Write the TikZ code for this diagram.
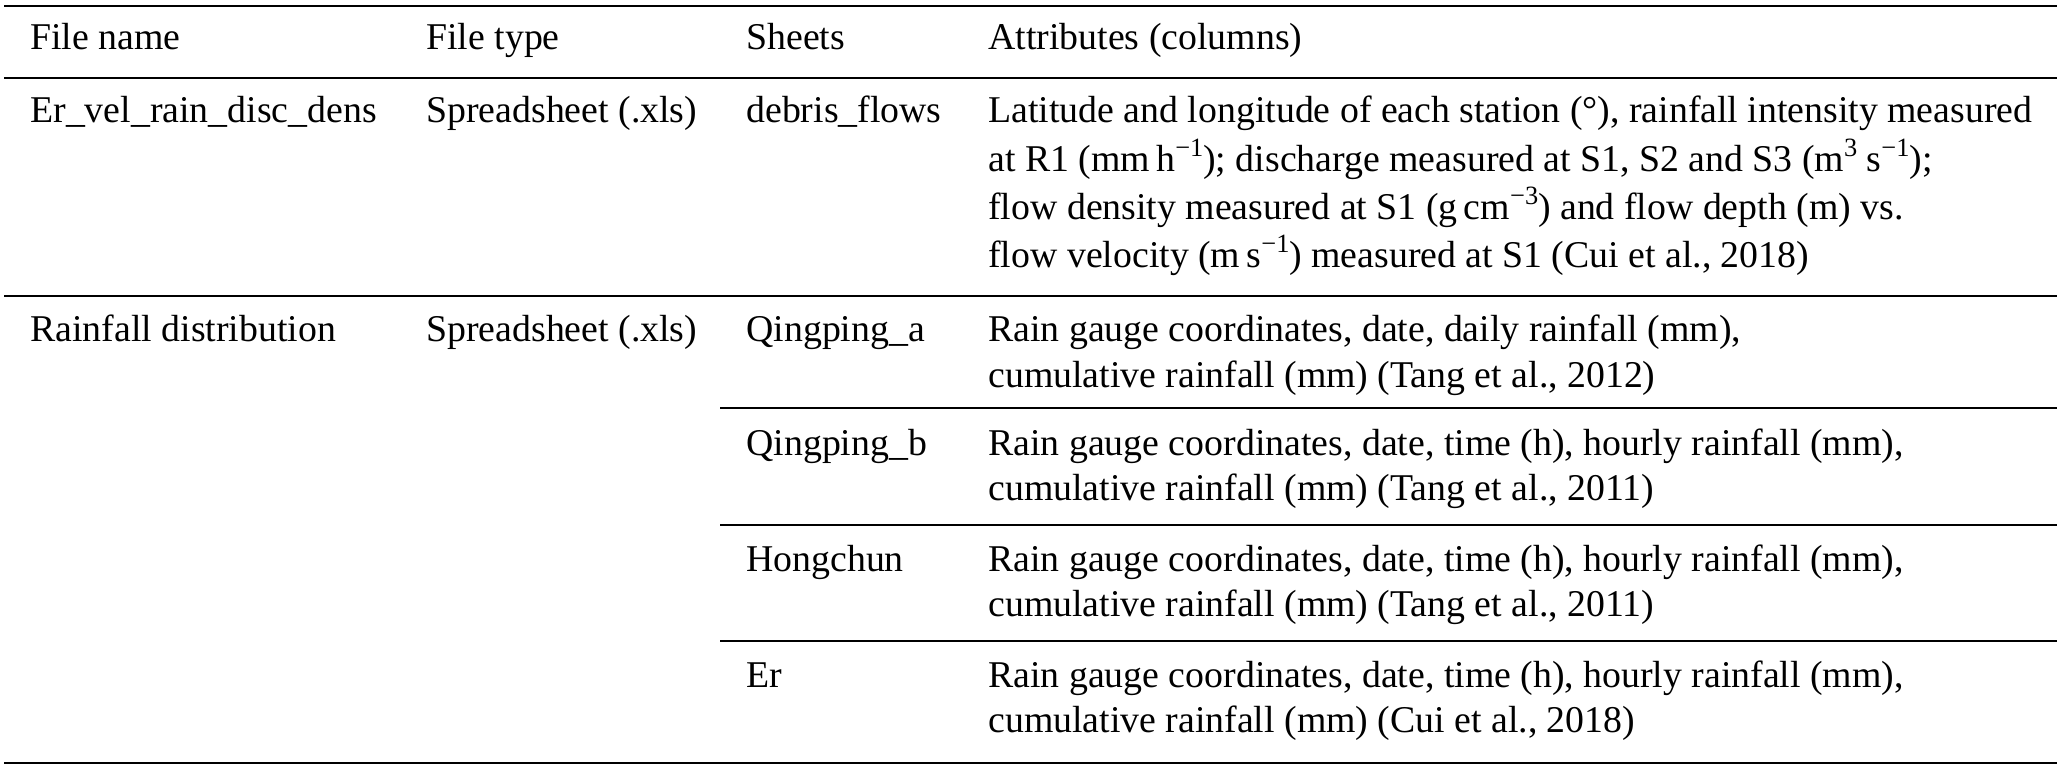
\documentclass[tikz,border=0pt]{standalone}
\usepackage{fontspec}
\setmainfont{Liberation Serif}
\newcommand{\upidx}[1]{\raisebox{0.42em}{\fontsize{13.2}{15}\selectfont #1}}

\begin{document}
\begin{tikzpicture}[x=0.5pt, y=-0.5pt,
    every node/.style={anchor=base west, inner sep=0pt, font=\fontsize{18.9}{22}\selectfont},
    rule/.style={line width=0.85pt}]
        \useasboundingbox (0,0) rectangle (2067,770);

        % Rules
        \draw[rule] (4,6) -- (2057,6);
        \draw[rule] (4,78) -- (2057,78);
        \draw[rule] (4,296) -- (2057,296);
        \draw[rule] (720,408) -- (2057,408);
        \draw[rule] (720,525) -- (2057,525);
        \draw[rule] (720,641) -- (2057,641);
        \draw[rule] (4,763) -- (2057,763);

        % Header
        \node (hname) at (30,50) {File name};
        \node (htype) at (426,50) {File type};
        \node (hsheet) at (746,50) {Sheets};
        \node (hattr) at (988,50) {Attributes (columns)};

        % First file
        \node (nameA) at (30,123) {Er\_vel\_rain\_disc\_dens};
        \node (typeA) at (426,123) {Spreadsheet (.xls)};
        \node (sheetA) at (746,123) {debris\_flows};
        \node (attrA1) at (988,123) {Latitude and longitude of each station (°), rainfall intensity measured};
        \node (attrA2) at (988,172) {at R1 (mm\,h\upidx{−1}); discharge measured at S1, S2 and S3 (m\upidx{3} s\upidx{−1});};
        \node (attrA3) at (988,220) {flow density measured at S1 (g\,cm\upidx{−3}) and flow depth (m) vs.};
        \node (attrA4) at (988,268) {flow velocity (m\,s\upidx{−1}) measured at S1 (Cui et al., 2018)};

        % Second file
        \node (nameB) at (30,342) {Rainfall distribution};
        \node (typeB) at (426,342) {Spreadsheet (.xls)};
        \node (sheetB) at (746,342) {Qingping\_a};
        \node (attrB1) at (988,342) {Rain gauge coordinates, date, daily rainfall (mm),};
        \node (attrB2) at (988,387) {cumulative rainfall (mm) (Tang et al., 2012)};
        \node (sheetC) at (746,455) {Qingping\_b};
        \node (attrC1) at (988,455) {Rain gauge coordinates, date, time (h), hourly rainfall (mm),};
        \node (attrC2) at (988,500) {cumulative rainfall (mm) (Tang et al., 2011)};
        \node (sheetD) at (746,571) {Hongchun};
        \node (attrD1) at (988,571) {Rain gauge coordinates, date, time (h), hourly rainfall (mm),};
        \node (attrD2) at (988,616) {cumulative rainfall (mm) (Tang et al., 2011)};
        \node (sheetE) at (746,687) {Er};
        \node (attrE1) at (988,687) {Rain gauge coordinates, date, time (h), hourly rainfall (mm),};
        \node (attrE2) at (988,732) {cumulative rainfall (mm) (Cui et al., 2018)};
\end{tikzpicture}
\end{document}
